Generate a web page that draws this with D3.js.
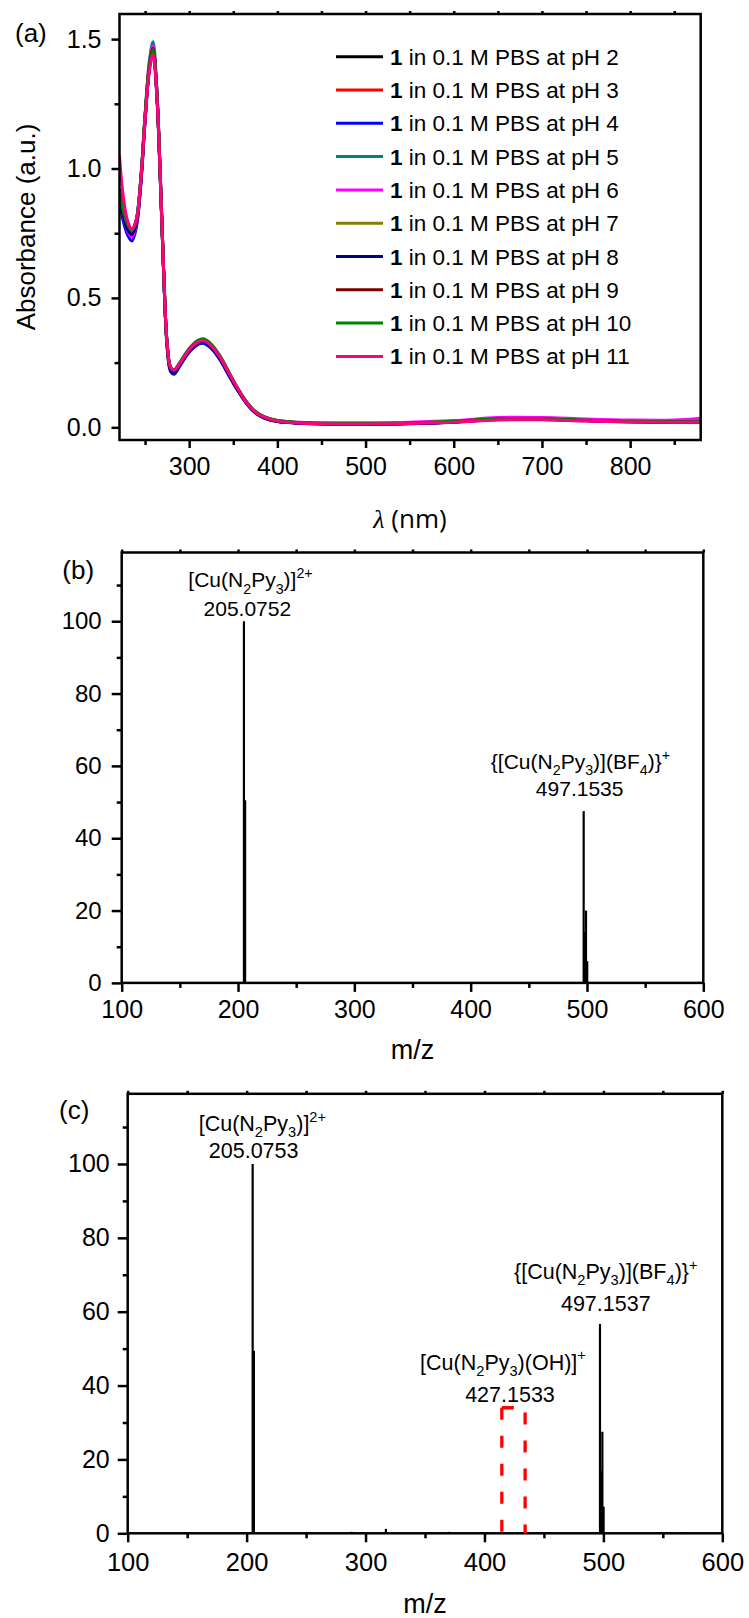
<!DOCTYPE html>
<html>
<head>
<meta charset="utf-8">
<script src="https://cdn.jsdelivr.net/npm/d3@7"></script>
<style>
  body { margin: 0; background: #fff; }
  svg { display: block; font-family: "Liberation Sans", Arial, sans-serif; }
</style>
</head>
<body>
<svg id="chart" width="749" height="1618"></svg>
<script>
// ---- (a) UV-vis data ----
const wavelengths = [221, 225, 230, 235, 240, 245, 250, 255, 259, 263, 267, 271, 275, 279, 283, 290, 300, 310, 316, 325,
  335, 345, 355, 365, 375, 385, 400, 425, 450, 500, 550, 600, 650, 700, 750, 800, 850, 880];

const absPH2 = [0.90, 0.83, 0.775, 0.75, 0.79, 0.94, 1.19, 1.39, 1.46, 1.31, 0.99, 0.60, 0.32, 0.225, 0.215, 0.245, 0.295, 0.325, 0.33, 0.31,
  0.265, 0.205, 0.145, 0.093, 0.056, 0.036, 0.022, 0.016, 0.013, 0.012, 0.014, 0.020, 0.030, 0.030, 0.025, 0.021, 0.020, 0.020];
const absPH3 = [0.91, 0.84, 0.78, 0.755, 0.80, 0.95, 1.20, 1.40, 1.465, 1.32, 1.00, 0.61, 0.325, 0.23, 0.22, 0.25, 0.30, 0.33, 0.335, 0.315,
  0.27, 0.21, 0.15, 0.097, 0.06, 0.04, 0.025, 0.018, 0.015, 0.014, 0.016, 0.022, 0.032, 0.032, 0.027, 0.023, 0.022, 0.022];
const absPH4 = [0.88, 0.80, 0.745, 0.72, 0.77, 0.93, 1.18, 1.39, 1.46, 1.31, 0.99, 0.60, 0.31, 0.215, 0.205, 0.24, 0.29, 0.32, 0.325, 0.305,
  0.26, 0.20, 0.142, 0.092, 0.056, 0.037, 0.023, 0.017, 0.014, 0.013, 0.015, 0.021, 0.031, 0.031, 0.026, 0.022, 0.021, 0.021];
const absPH5 = [0.89, 0.83, 0.78, 0.755, 0.80, 0.96, 1.21, 1.42, 1.49, 1.33, 1.00, 0.61, 0.32, 0.225, 0.215, 0.25, 0.30, 0.33, 0.335, 0.315,
  0.27, 0.21, 0.148, 0.096, 0.059, 0.039, 0.024, 0.018, 0.015, 0.014, 0.016, 0.022, 0.033, 0.033, 0.027, 0.023, 0.022, 0.022];
const absPH6 = [0.90, 0.82, 0.76, 0.735, 0.78, 0.94, 1.20, 1.41, 1.475, 1.32, 1.00, 0.61, 0.32, 0.225, 0.215, 0.245, 0.295, 0.325, 0.33, 0.31,
  0.265, 0.205, 0.146, 0.095, 0.058, 0.039, 0.025, 0.020, 0.018, 0.018, 0.020, 0.026, 0.038, 0.038, 0.032, 0.028, 0.028, 0.035];
const absPH7 = [0.91, 0.84, 0.785, 0.76, 0.80, 0.95, 1.20, 1.40, 1.46, 1.31, 0.99, 0.61, 0.325, 0.23, 0.22, 0.25, 0.30, 0.33, 0.338, 0.318,
  0.272, 0.212, 0.15, 0.097, 0.06, 0.04, 0.026, 0.019, 0.016, 0.015, 0.017, 0.023, 0.033, 0.033, 0.027, 0.023, 0.022, 0.022];
const absPH8 = [0.89, 0.82, 0.765, 0.745, 0.785, 0.94, 1.19, 1.39, 1.455, 1.30, 0.98, 0.60, 0.315, 0.22, 0.21, 0.243, 0.293, 0.322, 0.328, 0.308,
  0.263, 0.203, 0.144, 0.093, 0.057, 0.037, 0.023, 0.017, 0.014, 0.013, 0.015, 0.021, 0.031, 0.031, 0.026, 0.022, 0.021, 0.021];
const absPH9 = [0.92, 0.85, 0.79, 0.765, 0.80, 0.95, 1.20, 1.40, 1.465, 1.31, 0.99, 0.61, 0.325, 0.232, 0.222, 0.252, 0.302, 0.332, 0.338, 0.318,
  0.272, 0.21, 0.15, 0.097, 0.06, 0.04, 0.025, 0.018, 0.015, 0.014, 0.016, 0.022, 0.032, 0.032, 0.026, 0.022, 0.021, 0.021];
const absPH10 = [0.91, 0.84, 0.785, 0.76, 0.80, 0.95, 1.20, 1.40, 1.46, 1.31, 1.00, 0.61, 0.325, 0.232, 0.223, 0.254, 0.305, 0.336, 0.342, 0.322,
  0.276, 0.214, 0.152, 0.099, 0.061, 0.041, 0.026, 0.019, 0.016, 0.015, 0.017, 0.023, 0.033, 0.033, 0.027, 0.023, 0.022, 0.022];
const absPH11 = [1.05, 0.90, 0.80, 0.765, 0.80, 0.95, 1.19, 1.38, 1.44, 1.30, 0.99, 0.61, 0.325, 0.23, 0.22, 0.25, 0.30, 0.33, 0.335, 0.315,
  0.27, 0.21, 0.15, 0.096, 0.059, 0.039, 0.024, 0.017, 0.014, 0.013, 0.015, 0.020, 0.028, 0.029, 0.024, 0.021, 0.020, 0.020];

const phLabels = ["2", "3", "4", "5", "6", "7", "8", "9", "10", "11"];
const phColors = ["#000000", "#ff0000", "#0000ff", "#008080", "#ff00ff", "#808000", "#000080", "#800000", "#008000", "#ff0080"];
const phSeries = [absPH2, absPH3, absPH4, absPH5, absPH6, absPH7, absPH8, absPH9, absPH10, absPH11];

const uvTicks = [300, 400, 500, 600, 700, 800];
const uvMinor = [250, 350, 450, 550, 650, 750, 850];
const absTicks = [0, 0.5, 1.0, 1.5];
const absMinor = [0.25, 0.75, 1.25];

// ---- (b) and (c) mass spectra ----
const mzB = [205.08, 206.1, 497.15, 498.2, 499.15, 500.2];
const intB = [100, 50.5, 47.5, 14, 20, 6];
const mzC = [205.08, 206.1, 288.1, 317.1, 370.2, 497.15, 498.2, 499.15, 500.2, 565.3];
const intC = [100, 49.4, 0.4, 1.2, 0.4, 56.7, 17, 27.5, 7.2, 0.3];

const mzTicks = [100, 200, 300, 400, 500, 600];
const mzMinor = [150, 250, 350, 450, 550];
const relTicks = [0, 20, 40, 60, 80, 100];
const relMinor = [10, 30, 50, 70, 90, 110];

// labels: formula pieces [text, "sub"|"sup"|""], the number, and the peak they sit on
const annB = [
  { formula: [["[Cu(N", ""], ["2", "sub"], ["Py", ""], ["3", "sub"], [")]", ""], ["2+", "sup"]], value: "205.0752", mz: 205.08, inten: 100 },
  { formula: [["{[Cu(N", ""], ["2", "sub"], ["Py", ""], ["3", "sub"], [")](BF", ""], ["4", "sub"], [")}", ""], ["+", "sup"]], value: "497.1535", mz: 497.15, inten: 47.5 }
];
const annC = [
  { formula: [["[Cu(N", ""], ["2", "sub"], ["Py", ""], ["3", "sub"], [")]", ""], ["2+", "sup"]], value: "205.0753", mz: 205.08, inten: 100 },
  { formula: [["{[Cu(N", ""], ["2", "sub"], ["Py", ""], ["3", "sub"], [")](BF", ""], ["4", "sub"], [")}", ""], ["+", "sup"]], value: "497.1537", mz: 497.15, inten: 56.7 },
  { formula: [["[Cu(N", ""], ["2", "sub"], ["Py", ""], ["3", "sub"], [")(OH)]", ""], ["+", "sup"]], value: "427.1533", mz: 424.4, inten: 34 }
];
const boxMz = [414.6, 434.2];
const boxTop = 34;

const svg = d3.select("#chart");

function drawAxes(g, x, y, o) {
  const [x0, x1] = x.range(), [y0, y1] = y.range();
  const bx = g.append("g").attr("transform", `translate(0,${y0})`)
    .call(d3.axisBottom(x).tickValues(o.xTicks).tickFormat(o.xFmt).tickSize(o.xMajor).tickPadding(o.xPad));
  g.append("g").attr("transform", `translate(0,${y0})`)
    .call(d3.axisBottom(x).tickValues(o.xMinor).tickFormat("").tickSize(o.minor));
  // faint little marks along the top edge
  g.append("g").attr("transform", `translate(0,${y1})`)
    .call(d3.axisTop(x).tickValues(o.xTicks.concat(o.xMinor)).tickFormat("").tickSize(3));
  const ly = g.append("g").attr("transform", `translate(${x0},0)`)
    .call(d3.axisLeft(y).tickValues(o.yTicks).tickFormat(o.yFmt).tickSize(o.yMajor).tickPadding(o.yPad));
  g.append("g").attr("transform", `translate(${x0},0)`)
    .call(d3.axisLeft(y).tickValues(o.yMinor).tickFormat("").tickSize(o.minor));
  g.selectAll(".domain").remove();
  g.selectAll(".tick line").attr("stroke", "#000").attr("stroke-width", 2.5);
  bx.selectAll("text").attr("font-size", o.xFont).attr("fill", "#000");
  ly.selectAll("text").attr("font-size", o.yFont).attr("fill", "#000");
  g.append("rect").attr("x", x0).attr("y", y1).attr("width", x1 - x0).attr("height", y0 - y1)
    .attr("fill", "none").attr("stroke", "#000").attr("stroke-width", 2.5);
}

function formulaText(g, parts, x, y, size) {
  const t = g.append("text").attr("x", x).attr("y", y).attr("font-size", size).attr("text-anchor", "middle");
  let shift = 0;
  parts.forEach(([s, kind]) => {
    const target = kind === "sub" ? size * 0.3 : kind === "sup" ? -size * 0.42 : 0;
    t.append("tspan").attr("dy", target - shift)
      .attr("font-size", kind ? size * 0.68 : size).text(s);
    shift = target;
  });
}

// ================= panel (a) =================
const gA = svg.append("g");
const xA = d3.scaleLinear().domain([221, 880]).range([119.5, 700.7]);
const yA = d3.scaleLinear().domain([-0.049, 1.597]).range([440, 14]);

svg.append("clipPath").attr("id", "clipA").append("rect")
  .attr("x", 119.5).attr("y", 14).attr("width", 700.7 - 119.5).attr("height", 426);

const line = d3.line().x(d => xA(d[0])).y(d => yA(d[1])).curve(d3.curveCatmullRom.alpha(0.5));
gA.append("g").attr("clip-path", "url(#clipA)")
  .selectAll("path").data(phSeries).join("path")
  .attr("d", s => line(wavelengths.map((w, i) => [w, s[i]])))
  .attr("fill", "none").attr("stroke", (s, i) => phColors[i]).attr("stroke-width", 3);

drawAxes(gA, xA, yA, {
  xTicks: uvTicks, xMinor: uvMinor, yTicks: absTicks, yMinor: absMinor,
  xFmt: d3.format("d"), yFmt: d3.format(".1f"), xMajor: 8, yMajor: 8, minor: 5, xPad: 9, yPad: 10, xFont: 25, yFont: 25
});

// legend
const leg = gA.append("g");
phLabels.forEach((p, i) => {
  const ly = 56.7 + 33.3 * i;
  leg.append("line").attr("x1", 336).attr("x2", 383).attr("y1", ly).attr("y2", ly)
    .attr("stroke", phColors[i]).attr("stroke-width", 3);
  const t = leg.append("text").attr("x", 390).attr("y", ly + 8).attr("font-size", 22.5);
  t.append("tspan").attr("font-weight", "bold").text("1");
  t.append("tspan").text(` in 0.1 M PBS at pH ${p}`);
});

gA.append("text").attr("x", 15).attr("y", 42).attr("font-size", 26).text("(a)");
gA.append("text").attr("transform", "translate(35,227) rotate(-90)").attr("text-anchor", "middle")
  .attr("font-size", 26).text("Absorbance (a.u.)");
const lam = gA.append("text").attr("x", 410).attr("y", 528).attr("text-anchor", "middle").attr("font-size", 26);
lam.append("tspan").attr("font-family", "Liberation Serif, serif").attr("font-style", "italic").text("λ");
lam.append("tspan").attr("font-family", "Open Sans, sans-serif").text(" (nm)");

// ================= mass spectra =================
function massPanel(L, mz, inten, ann) {
  const g = svg.append("g");
  const x = d3.scaleLinear().domain([100, 600]).range([L.left, L.right]);
  const y = d3.scaleLinear().domain([0, 119]).range([L.bottom, L.top]);

  g.append("g").selectAll("line").data(mz).join("line")
    .attr("x1", d => x(d)).attr("x2", d => x(d))
    .attr("y1", y(0)).attr("y2", (d, i) => y(inten[i]))
    .attr("stroke", "#000").attr("stroke-width", 2.2);

  drawAxes(g, x, y, {
    xTicks: mzTicks, xMinor: mzMinor, yTicks: relTicks, yMinor: relMinor,
    xFmt: d3.format("d"), yFmt: d3.format("d"), xMajor: 9, yMajor: 10, minor: 5,
    xPad: L.xPad, yPad: L.yPad, xFont: L.xFont, yFont: L.yFont
  });

  ann.forEach((a, i) => {
    const [dx, gap, fdx, rise] = L.ann[i];
    const cx = x(a.mz) + dx;
    const by = y(a.inten) - gap;
    g.append("text").attr("x", cx).attr("y", by).attr("text-anchor", "middle").attr("font-size", L.annFont).text(a.value);
    formulaText(g, a.formula, cx + fdx, by - rise, L.annFont);
  });

  g.append("text").attr("x", L.left + L.tag[0]).attr("y", L.top + L.tag[1]).attr("font-size", 26).text(L.name);
  g.append("text").attr("x", (L.left + L.right) / 2).attr("y", L.bottom + L.title).attr("text-anchor", "middle")
    .attr("font-size", 27).text("m/z");
  return { g, x, y };
}

massPanel({
  name: "(b)", left: 121.7, right: 703.3, top: 552.5, bottom: 982.9,
  xPad: 8, yPad: 10, xFont: 25, yFont: 24, annFont: 21, title: 76, tag: [-59.4, 26.8],
  ann: [[3.4, 5.4, 3.2, 28.5], [-4, 15.5, 0.8, 27]]
}, mzB, intB, annB);

const pc = massPanel({
  name: "(c)", left: 127.7, right: 722.3, top: 1093.8, bottom: 1533.3,
  xPad: 11, yPad: 8, xFont: 25.5, yFont: 25, annFont: 21.5, title: 80, tag: [-68.7, 24.9],
  ann: [[1, 6.4, 8.7, 27], [5.8, 13.2, 0, 32], [-3.5, 5.4, -7, 32.8]]
}, mzC, intC, annC);

// red dashed box around the weak 427 peak, dashes starting from its top-left corner
const bl = pc.x(boxMz[0]), br = pc.x(boxMz[1]), bt = pc.y(boxTop), bb = pc.y(0);
pc.g.selectAll("path.box").data([`M${bl},${bt}V${bb}`, `M${bl},${bt}H${br}V${bb}`]).join("path")
  .attr("class", "box").attr("d", d => d)
  .attr("fill", "none").attr("stroke", "#ff0000").attr("stroke-width", 3.3).attr("stroke-dasharray", "12,16");
</script>
</body>
</html>
